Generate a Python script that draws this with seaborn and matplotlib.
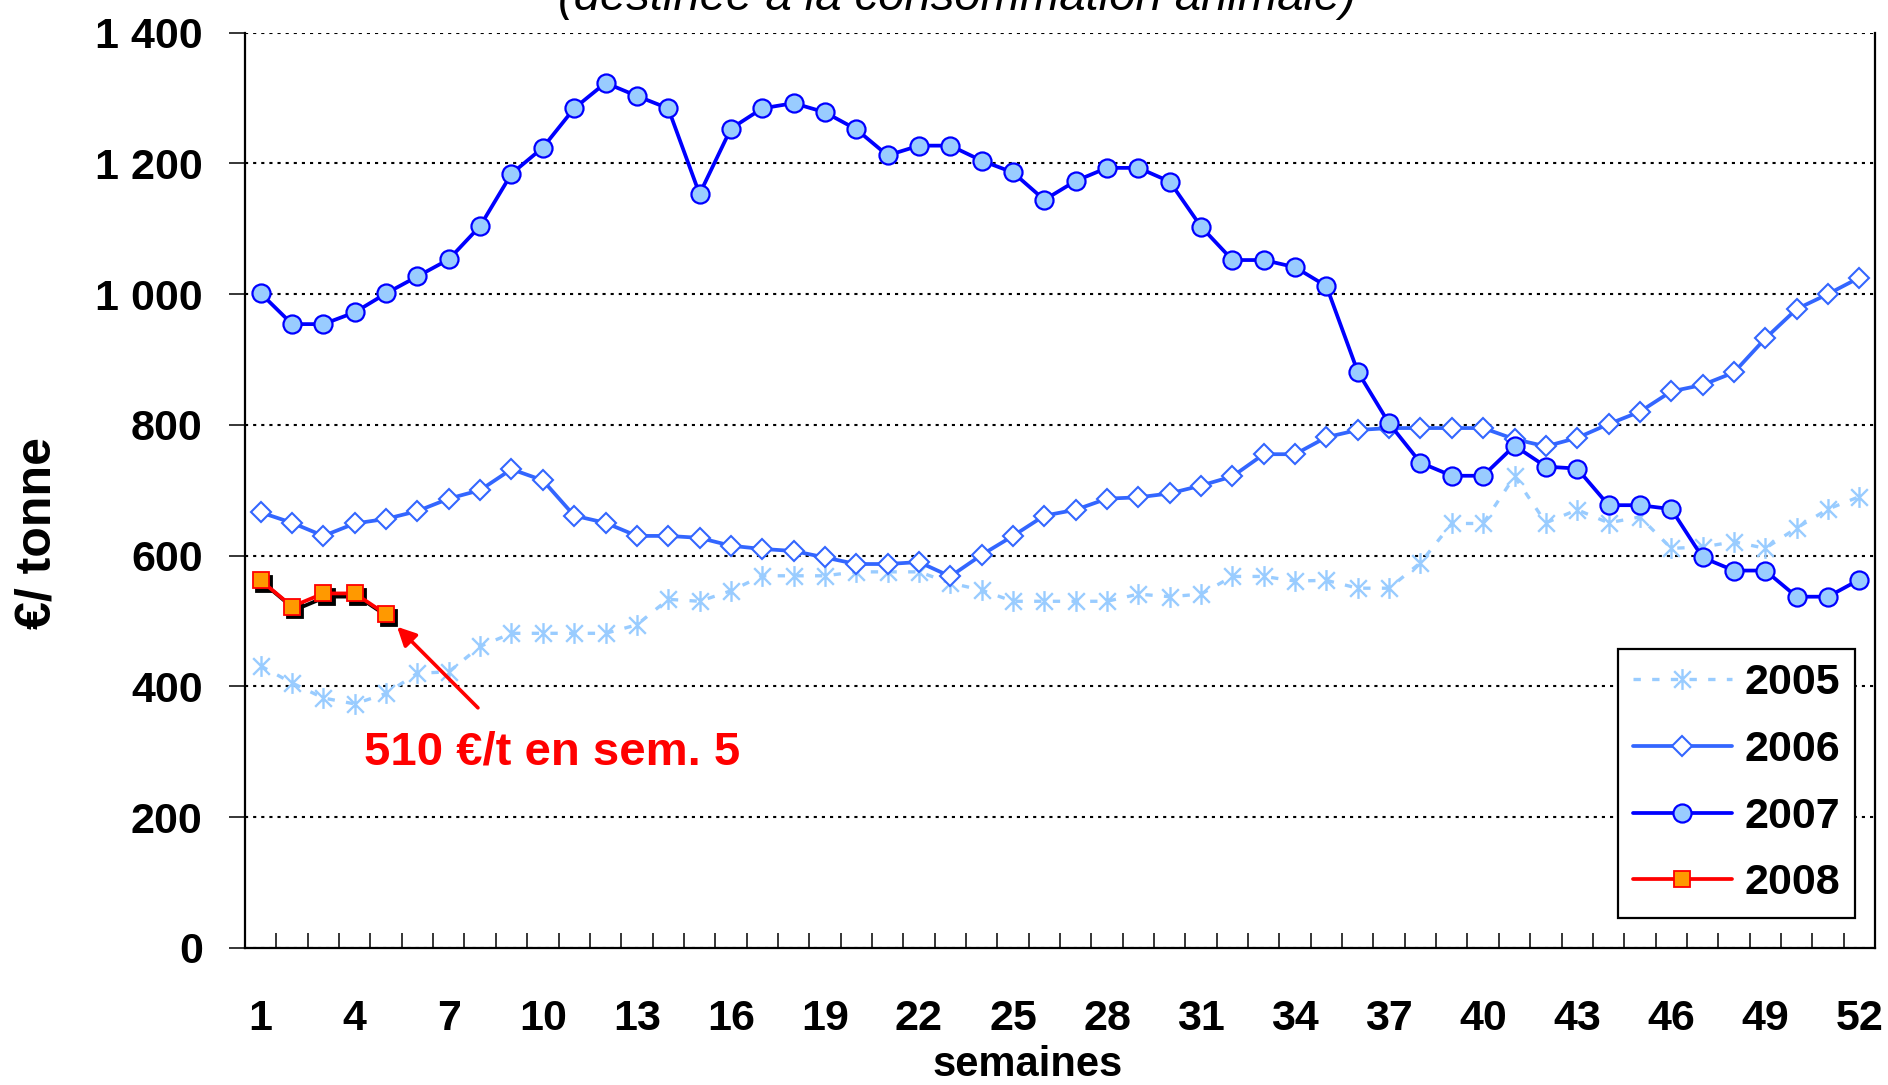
import numpy as np
import pandas as pd
import matplotlib
matplotlib.use("Agg")
import matplotlib.pyplot as plt
from matplotlib.path import Path
from matplotlib.lines import Line2D
from matplotlib.transforms import ScaledTranslation
import matplotlib.ticker as mticker
import seaborn as sns

# ---------------- data ----------------
weeks = list(range(1, 53))

prix_2005 = [431, 405, 382, 373, 389, 420, 422, 461, 481, 481, 481, 481, 494, 533, 530, 546,
             569, 569, 569, 575, 575, 575, 558, 547, 530, 530, 530, 530, 541, 537, 541, 568,
             568, 561, 562, 550, 550, 589, 649, 649, 721, 650, 670, 650, 659, 611, 613, 621,
             611, 642, 671, 690]

prix_2006 = [666, 650, 630, 649, 656, 668, 687, 700, 732, 715, 661, 650, 630, 630, 627, 615,
             610, 607, 597, 587, 587, 590, 568, 601, 630, 661, 670, 687, 689, 695, 707, 721,
             755, 755, 781, 792, 795, 795, 795, 795, 778, 767, 780, 801, 820, 851, 861, 880,
             932, 977, 1000, 1025]

prix_2007 = [1001, 954, 954, 972, 1001, 1027, 1053, 1104, 1184, 1224, 1284, 1323, 1303, 1284,
             1153, 1253, 1284, 1292, 1278, 1252, 1212, 1227, 1227, 1204, 1186, 1144, 1173, 1193,
             1193, 1172, 1103, 1052, 1052, 1041, 1012, 881, 802, 742, 722, 722, 768, 736, 733,
             677, 677, 671, 597, 577, 577, 537, 537, 563]

weeks_2008 = [1, 2, 3, 4, 5]
prix_2008 = [562, 522, 542, 542, 510]

series_labels = ["2005", "2006", "2007", "2008"]
xtick_values = list(range(1, 53, 3))
ytick_values = [0, 200, 400, 600, 800, 1000, 1200, 1400]

title_text = "(destinée à la consommation animale)"
ylabel_text = "€/ tonne"
xlabel_text = "semaines"
annot_text = "510 €/t en sem. 5"

# ---------------- style ----------------
sns.set_style("white")
plt.rcParams["font.family"] = ["Liberation Sans", "DejaVu Sans"]
plt.rcParams["font.weight"] = "bold"
plt.rcParams["text.color"] = "black"
plt.rcParams["axes.labelcolor"] = "black"
plt.rcParams["xtick.color"] = "black"
plt.rcParams["ytick.color"] = "black"

C05 = "#99CCFF"
C06 = "#3366FF"
C07 = "#0000FF"
C08 = "#FF0000"
C08F = "#FF9900"

fig = plt.figure(figsize=(18.88, 10.85), dpi=100)
ax = fig.add_axes([0.1298, 0.1265, 0.8633, 0.8435])

# asterisk marker (X + vertical bar)
ast = Path([(0, -1), (0, 1), (-0.8, -0.8), (0.8, 0.8), (-0.8, 0.8), (0.8, -0.8)],
           [Path.MOVETO, Path.LINETO, Path.MOVETO, Path.LINETO, Path.MOVETO, Path.LINETO])

df05 = pd.DataFrame({"semaine": weeks, "prix": prix_2005})
df06 = pd.DataFrame({"semaine": weeks, "prix": prix_2006})
df07 = pd.DataFrame({"semaine": weeks, "prix": prix_2007})
df08 = pd.DataFrame({"semaine": weeks_2008, "prix": prix_2008})

sty05 = dict(color=C05, lw=2.4, linestyle=(0, (2.2, 3.4)), marker=ast, ms=15,
             mec=C05, mfc="none", mew=1.7)
sty06 = dict(color=C06, lw=2.7, marker="D", ms=10.5, mec=C06, mfc="white", mew=1.5)
sty07 = dict(color=C07, lw=2.7, marker="o", ms=13, mec=C07, mfc=C05, mew=1.6)
sty08 = dict(color=C08, lw=2.7, marker="s", ms=12, mec=C08, mfc=C08F, mew=1.3)

sns.lineplot(data=df05, x="semaine", y="prix", ax=ax, errorbar=None, zorder=3, **sty05)
sns.lineplot(data=df06, x="semaine", y="prix", ax=ax, errorbar=None, zorder=4, **sty06)
sns.lineplot(data=df07, x="semaine", y="prix", ax=ax, errorbar=None, zorder=5, **sty07)
# shadow for 2008
shadow = ax.transData + ScaledTranslation(2.3 / 72, -2.3 / 72, fig.dpi_scale_trans)
sns.lineplot(data=df08, x="semaine", y="prix", ax=ax, color="black", lw=2.7,
             marker="s", ms=12, mec="black", mfc="black", mew=1.3, errorbar=None,
             zorder=6, transform=shadow)
sns.lineplot(data=df08, x="semaine", y="prix", ax=ax, errorbar=None, zorder=7, **sty08)

# ---------------- axes ----------------
ax.set_xlim(0.5, 52.5)
ax.set_ylim(0, 1400)
ax.set_xlabel("")
ax.set_ylabel("")

ax.set_xticks(xtick_values)
ax.set_xticklabels([str(v) for v in xtick_values], fontsize=31, fontweight="bold")
ax.set_xticks(np.arange(1.5, 52.5, 1), minor=True)
ax.tick_params(axis="x", which="major", length=0, pad=37)
ax.tick_params(axis="x", which="minor", direction="in", length=10.8, width=1.1,
               color="black", bottom=True)

ax.set_yticks(ytick_values)
ax.yaxis.set_major_formatter(mticker.FuncFormatter(lambda v, p: f"{int(v):,}".replace(",", " ")))
ax.tick_params(axis="y", which="major", direction="out", length=11.5, width=1.1,
               color="black", pad=19, labelsize=31, left=True)
for lab in ax.get_yticklabels():
    lab.set_fontweight("bold")

ax.yaxis.grid(True, color="black", linestyle=(0, (1.5, 2.4)), lw=1.5, zorder=1)
ax.xaxis.grid(False)
ax.set_axisbelow(True)

for s in ["left", "bottom", "right"]:
    ax.spines[s].set_visible(True)
    ax.spines[s].set_color("black")
    ax.spines[s].set_linewidth(1.6)
ax.spines["top"].set_visible(False)

# ---------------- texts ----------------
fig.text(0.507, 1 - 10 / 1085, title_text, ha="center", va="baseline",
         fontsize=34, fontstyle="italic", fontweight="normal", color="black")
fig.text(37.5 / 1888, 1 - 533 / 1085, ylabel_text, rotation=90, ha="center",
         va="center", fontsize=36, fontweight="bold")
fig.text(1028 / 1888, 0.5 / 1085, xlabel_text, ha="center", va="bottom",
         fontsize=30, fontweight="bold")

ax.annotate("", xy=(5.35, 491), xytext=(7.93, 367),
            arrowprops=dict(arrowstyle="-|>", color=C08, lw=2.6,
                            mutation_scale=28, shrinkA=0, shrinkB=0), zorder=8)
ax.text(10.31, 280, annot_text, ha="center", va="baseline", color=C08,
        fontsize=34, fontweight="bold", zorder=8)

# ---------------- legend ----------------
handles = [Line2D([], [], **sty05), Line2D([], [], **sty06),
           Line2D([], [], **sty07), Line2D([], [], **sty08)]
leg = ax.legend(handles, series_labels, loc="lower right",
                bbox_to_anchor=(0.9877, 0.0325), borderaxespad=0,
                prop={"size": 31, "weight": "bold"}, frameon=True, fancybox=False,
                edgecolor="black", framealpha=1, handlelength=2.3, handletextpad=0.3,
                labelspacing=0.62, borderpad=0.34)
leg.get_frame().set_linewidth(1.6)
leg.set_zorder(10)

fig.savefig("out.png", dpi=100)
